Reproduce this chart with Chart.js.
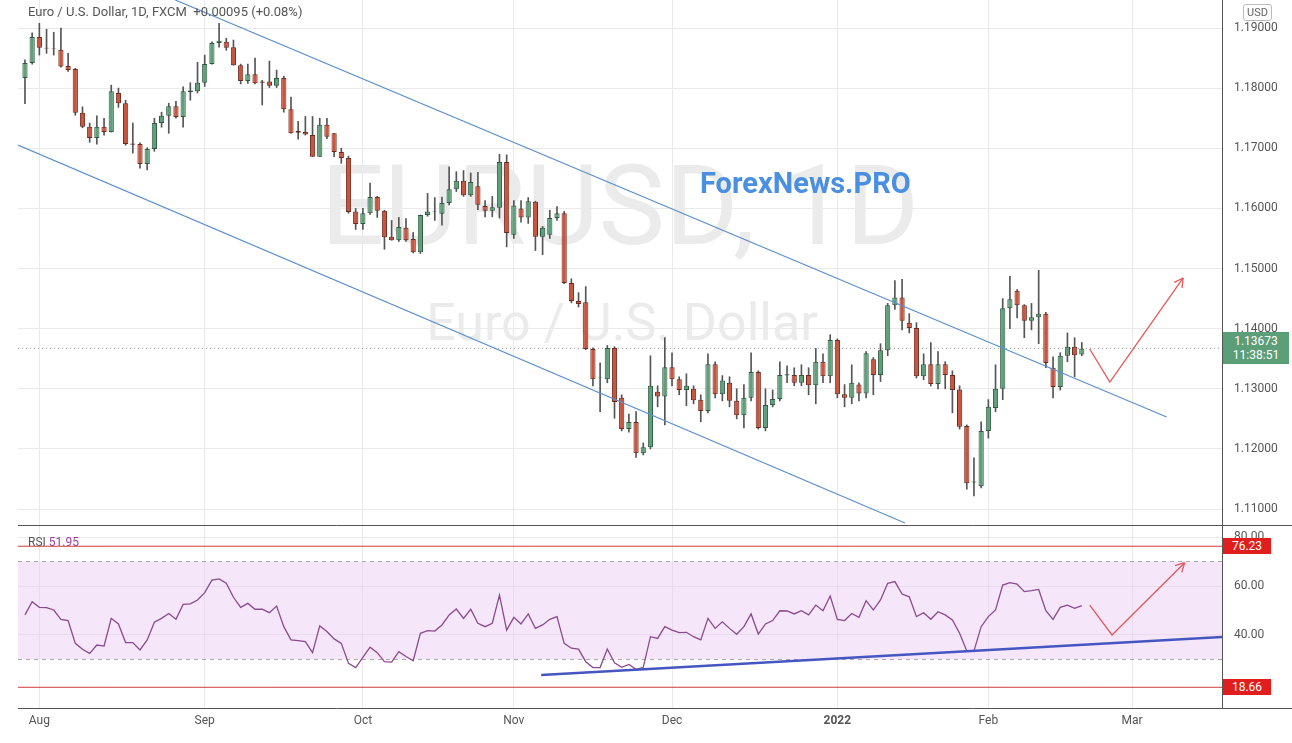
<!DOCTYPE html>
<html><head><meta charset="utf-8">
<script src="https://cdn.jsdelivr.net/npm/chart.js@4.4.1/dist/chart.umd.min.js"></script>
<style>
html,body{margin:0;padding:0;background:#fff;width:1292px;height:743px;overflow:hidden;font-family:Roboto,"Noto Sans",sans-serif}
#w1{position:absolute;left:0;top:0;width:1292px;height:525px}
#w2{position:absolute;left:0;top:525px;width:1292px;height:218px}
canvas{position:relative;z-index:2;display:block}
.t{position:absolute;z-index:3;white-space:nowrap}
.wm{position:absolute;z-index:1;white-space:nowrap;color:#ebebeb;transform:translate(-50%,-50%)}
.box{position:absolute;z-index:4;color:#fff;font-size:12px;text-align:center;line-height:14px}
</style></head><body>
<div class="wm" style="left:620px;top:205px;font-size:112px">EURUSD, 1D</div>
<div class="wm" style="left:622px;top:322px;font-size:52px">Euro / U.S. Dollar</div>
<div id="w1"><canvas id="c1"></canvas></div>
<div id="w2"><canvas id="c2"></canvas></div>
<div class="t" style="left:28px;top:4px;font-size:13px;color:#555">Euro / U.S. Dollar, 1D, FXCM &nbsp;+0.00095 (+0.08%)</div>
<div class="t" style="left:700px;top:166px;font-size:29px;font-weight:bold;color:#4a8fe0">ForexNews.PRO</div>
<div class="t" style="left:1243px;top:4px;font-size:11px;color:#666;border:1px solid #bbb;border-radius:3px;padding:1px 3px">USD</div>
<div class="t" style="left:28px;top:535px;font-size:12px;color:#555">RSI <span style="color:#9c3c9c">51.95</span></div>
<div class="box" id="pbox" style="left:1223px;width:66px;background:#5c9e78;padding:2px 0">1.13673<br>11:38:51</div>
<div class="box" id="hbox" style="left:1223px;width:48px;background:#e01e1e;padding:1px 0">76.23</div>
<div class="box" id="lbox" style="left:1223px;width:48px;background:#e01e1e;padding:1px 0">18.66</div>
<script>
const monthIdx=[2,25,47,68,90,113,134,154];
const monthLabels=['Aug','Sep','Oct','Nov','Dec','2022','Feb','Mar'];
const priceTicks=[1.11,1.12,1.13,1.14,1.15,1.16,1.17,1.18,1.19];
const rsiTicks=[40,60,80];
const rsiLevels=[76.23,18.66];
const rsiBand=[70,30];
const lastPrice=1.13673;
const opens=[1.1817,1.1842,1.1885,1.1867,1.1866,1.1864,1.1837,1.1832,1.1759,1.1736,1.1717,1.1736,1.1727,1.1792,1.1775,1.1708,1.1707,1.1674,1.1699,1.1742,1.1754,1.1770,1.1752,1.1793,1.1795,1.1809,1.1840,1.1875,1.1877,1.1868,1.1838,1.1812,1.1823,1.1811,1.1811,1.1804,1.1817,1.1765,1.1729,1.1727,1.1722,1.1686,1.1739,1.1725,1.1694,1.1684,1.1595,1.1574,1.1592,1.1619,1.1596,1.1553,1.1547,1.1568,1.1549,1.1527,1.1589,1.1594,1.1591,1.1609,1.1632,1.1646,1.1622,1.1637,1.1604,1.1596,1.1601,1.1677,1.1556,1.1600,1.1585,1.1611,1.1553,1.1556,1.1584,1.1592,1.1476,1.1446,1.1444,1.1366,1.1318,1.1316,1.1368,1.1285,1.1233,1.1245,1.1193,1.1203,1.1295,1.1287,1.1336,1.1316,1.1298,1.1300,1.1282,1.1263,1.1341,1.1291,1.1310,1.1280,1.1256,1.1285,1.1328,1.1235,1.1273,1.1283,1.1322,1.1323,1.1310,1.1323,1.1306,1.1345,1.1321,1.1381,1.1291,1.1285,1.1307,1.1292,1.1349,1.1323,1.1364,1.1439,1.1452,1.1410,1.1401,1.1321,1.1341,1.1308,1.1341,1.1323,1.1299,1.1238,1.1144,1.1138,1.1230,1.1268,1.1300,1.1434,1.1463,1.1439,1.1413,1.1419,1.1425,1.1335,1.1303,1.1355,1.1370,1.1357];
const highs=[1.1847,1.1892,1.1908,1.1898,1.1893,1.1900,1.1858,1.1833,1.1769,1.1742,1.1754,1.1750,1.1805,1.1800,1.1780,1.1742,1.1709,1.1701,1.1750,1.1760,1.1775,1.1778,1.1802,1.1809,1.1843,1.1855,1.1877,1.1908,1.1883,1.1880,1.1840,1.1840,1.1850,1.1813,1.1845,1.1830,1.1820,1.1785,1.1745,1.1753,1.1753,1.1750,1.1750,1.1725,1.1700,1.1687,1.1600,1.1600,1.1642,1.1620,1.1597,1.1580,1.1585,1.1583,1.1560,1.1589,1.1625,1.1618,1.1619,1.1669,1.1661,1.1663,1.1659,1.1660,1.1613,1.1620,1.1690,1.1689,1.1613,1.1613,1.1618,1.1612,1.1570,1.1597,1.1603,1.1595,1.1483,1.1460,1.1470,1.1368,1.1343,1.1372,1.1370,1.1290,1.1258,1.1262,1.1210,1.1355,1.1305,1.1385,1.1360,1.1320,1.1325,1.1305,1.1290,1.1358,1.1345,1.1322,1.1320,1.1300,1.1307,1.1360,1.1330,1.1300,1.1298,1.1345,1.1338,1.1335,1.1340,1.1335,1.1367,1.1358,1.1390,1.1383,1.1307,1.1340,1.1310,1.1362,1.1352,1.1375,1.1442,1.1480,1.1482,1.1425,1.1410,1.1358,1.1377,1.1362,1.1345,1.1330,1.1305,1.1240,1.1185,1.1245,1.1282,1.1340,1.1450,1.1487,1.1465,1.1440,1.1442,1.1497,1.1427,1.1353,1.1360,1.1393,1.1385,1.1377];
const lows=[1.1774,1.1840,1.1855,1.1858,1.1855,1.1835,1.1828,1.1755,1.1734,1.1710,1.1707,1.1722,1.1727,1.1768,1.1705,1.1692,1.1667,1.1664,1.1695,1.1735,1.1725,1.1750,1.1735,1.1780,1.1792,1.1803,1.1840,1.1868,1.1863,1.1838,1.1807,1.1808,1.1807,1.1772,1.1801,1.1801,1.1760,1.1725,1.1715,1.1722,1.1686,1.1686,1.1716,1.1686,1.1675,1.1592,1.1565,1.1565,1.1590,1.1585,1.1532,1.1547,1.1545,1.1545,1.1526,1.1525,1.1587,1.1580,1.1572,1.1606,1.1628,1.1620,1.1620,1.1598,1.1586,1.1586,1.1584,1.1536,1.1550,1.1577,1.1575,1.1530,1.1523,1.1550,1.1580,1.1475,1.1443,1.1436,1.1365,1.1305,1.1262,1.1310,1.1251,1.1230,1.1228,1.1186,1.1190,1.1200,1.1270,1.1240,1.1305,1.1290,1.1272,1.1275,1.1245,1.1260,1.1285,1.1280,1.1270,1.1250,1.1235,1.1280,1.1233,1.1230,1.1270,1.1280,1.1310,1.1305,1.1305,1.1290,1.1275,1.1310,1.1310,1.1285,1.1270,1.1275,1.1280,1.1285,1.1290,1.1312,1.1355,1.1432,1.1398,1.1393,1.1318,1.1315,1.1305,1.1300,1.1300,1.1260,1.1233,1.1133,1.1122,1.1135,1.1218,1.1262,1.1282,1.1400,1.1418,1.1385,1.1398,1.1375,1.1335,1.1285,1.1298,1.1345,1.1320,1.1355];
const closes=[1.1842,1.1885,1.1867,1.1866,1.1865,1.1836,1.1830,1.1759,1.1736,1.1717,1.1736,1.1727,1.1795,1.1775,1.1707,1.1706,1.1674,1.1699,1.1742,1.1754,1.1770,1.1752,1.1795,1.1796,1.1809,1.1840,1.1875,1.1879,1.1867,1.1838,1.1812,1.1823,1.1808,1.1809,1.1804,1.1817,1.1765,1.1725,1.1726,1.1723,1.1686,1.1739,1.1719,1.1694,1.1684,1.1594,1.1574,1.1592,1.1619,1.1596,1.1552,1.1547,1.1569,1.1547,1.1527,1.1589,1.1595,1.1595,1.1609,1.1632,1.1646,1.1622,1.1644,1.1606,1.1596,1.1602,1.1677,1.1559,1.1605,1.1585,1.1612,1.1553,1.1568,1.1584,1.1592,1.1476,1.1446,1.1441,1.1366,1.1316,1.1319,1.1368,1.1278,1.1233,1.1245,1.1193,1.1203,1.1305,1.1287,1.1336,1.1316,1.1298,1.1305,1.1281,1.1263,1.1341,1.1291,1.1314,1.1280,1.1256,1.1285,1.1328,1.1235,1.1273,1.1283,1.1323,1.1324,1.1310,1.1323,1.1306,1.1345,1.1321,1.1381,1.1291,1.1285,1.1310,1.1292,1.1359,1.1323,1.1364,1.1439,1.1452,1.1413,1.1401,1.1321,1.1341,1.1308,1.1341,1.1323,1.1298,1.1237,1.1143,1.1146,1.1230,1.1270,1.1300,1.1434,1.1449,1.1439,1.1413,1.1419,1.1425,1.1343,1.1303,1.1355,1.1370,1.1356,1.1367];
const rsi=[48.2,53.6,51.3,51.2,50.2,46.4,45.9,36.6,34.2,32.5,35.9,35.5,46.8,44.5,36.9,36.9,33.9,38.0,45.2,46.8,48.8,46.4,52.5,52.7,54.3,57.3,62.4,62.9,61.1,55.4,51.3,52.9,50.5,50.5,49.1,51.8,43.4,38.0,37.7,37.3,32.8,43.7,41.4,38.4,36.6,28.4,26.7,30.9,35.0,32.8,29.1,28.9,33.2,31.2,29.5,40.7,41.8,41.6,44.1,48.2,50.6,46.8,50.5,44.8,43.4,44.8,56.3,42.0,47.2,44.5,48.6,42.7,44.1,46.4,47.5,36.6,34.6,34.2,29.1,26.7,26.7,34.3,28.7,26.8,28.0,26.0,26.8,39.3,38.6,43.4,42.0,41.0,41.1,39.3,38.0,46.8,42.7,45.4,42.7,40.3,43.4,48.6,40.4,44.5,45.9,49.9,49.8,48.6,49.9,48.2,52.2,49.9,55.9,46.4,45.9,48.8,47.2,54.0,50.2,54.3,61.1,61.8,56.7,55.6,47.5,49.1,46.4,49.5,48.2,46.1,40.7,33.5,33.5,43.4,47.5,50.2,60.4,61.4,60.8,57.7,58.1,58.6,49.9,46.4,51.3,52.2,50.9,52.0];
const upperChannel=[[20.9,1.19466],[158.8,1.12531]];
const lowerChannel=[[-0.97,1.17054],[122.4,1.10768]];
const priceArrow=[[148.1,1.13662],[150.9,1.13113],[161.1,1.14843]];
const rsiTrend=[[71.8,23.7],[166.5,39.2]];
const rsiArrow=[[148.1,52.2],[151.2,40.0],[161.3,69.5]];
const xMin=-0.97, xMax=166.5;

const GREEN='#5f9f7a',RED='#c9553f';
const up=closes.map((c,i)=>c>=opens[i]);
const pts=a=>a.map(p=>({x:p[0],y:p[1]}));
const lineDs=(a,color,w)=>({type:'line',data:pts(a),borderColor:color,borderWidth:w,pointRadius:0,order:-1,tension:0});

function arrowPlugin(id,getDs){return {id,afterDatasetsDraw(ch){
  const m=ch.getDatasetMeta(getDs);const p=m.data;const a=p[p.length-2],b=p[p.length-1];
  const ang=Math.atan2(b.y-a.y,b.x-a.x);const ctx=ch.ctx;ctx.save();ctx.strokeStyle=ch.data.datasets[getDs].borderColor;ctx.lineWidth=1.3;
  ctx.beginPath();[0.5,-0.5].forEach(d=>{ctx.moveTo(b.x,b.y);ctx.lineTo(b.x-10*Math.cos(ang+d),b.y-10*Math.sin(ang+d));});ctx.stroke();ctx.restore();}};}

const zeroPad=s=>{s.paddingTop=0;s.paddingBottom=0;s.paddingLeft=0;s.paddingRight=0;};
const xCommon={type:'linear',min:xMin,max:xMax,offset:false,afterBuildTicks:s=>{s.ticks=monthIdx.map(v=>({value:v}));},
  grid:{color:'#eaeaea',drawTicks:false,offset:false}};

const ch1=new Chart(document.getElementById('c1'),{
 type:'bar',
 data:{datasets:[
  {data:opens.map((o,i)=>({x:i,y:[o,closes[i]]})),backgroundColor:up.map(u=>u?GREEN:RED),borderColor:up.map(u=>u?'#2f5a41':'#6e2a1f'),borderWidth:1,borderSkipped:false,grouped:false,barPercentage:0.85,categoryPercentage:0.85},
  {data:lows.map((l,i)=>({x:i,y:[l,highs[i]]})),backgroundColor:'#555',barThickness:1,grouped:false},
  lineDs(upperChannel,'#5b8fd0',1.2),
  lineDs(lowerChannel,'#5b8fd0',1.2),
  lineDs(priceArrow,'#e05a5a',1.3),
  {type:'line',data:[{x:xMin,y:lastPrice},{x:xMax,y:lastPrice}],borderColor:'#999',borderWidth:1,borderDash:[1,3],pointRadius:0,order:1}
 ]},
 options:{animation:false,responsive:true,maintainAspectRatio:false,events:[],
  layout:{autoPadding:false,padding:{left:18,top:0,bottom:0,right:0}},
  plugins:{legend:{display:false},tooltip:{enabled:false}},
  scales:{
   x:{...xCommon,ticks:{display:false},border:{display:false},afterFit:s=>{s.height=0;zeroPad(s);}},
   y:{position:'right',min:1.10735,max:1.19466,afterBuildTicks:s=>{s.ticks=priceTicks.map(v=>({value:v}));},
      ticks:{callback:v=>v.toFixed(5),color:'#555',font:{size:12,family:'Roboto'},padding:12},
      grid:{color:'#eaeaea',drawTicks:false},border:{color:'#555'},afterFit:s=>{s.width=70;zeroPad(s);}}
  }},
 plugins:[arrowPlugin('a1',4)]
});

const bandPlugin={id:'band',beforeDatasetsDraw(ch){
  const {ctx,chartArea:a,scales:{y}}=ch;ctx.save();
  const t=y.getPixelForValue(rsiBand[0]),b=y.getPixelForValue(rsiBand[1]);
  ctx.fillStyle='rgba(232,200,245,0.45)';ctx.fillRect(a.left,t,a.right-a.left,b-t);
  ctx.strokeStyle='#aaa';ctx.setLineDash([4,4]);ctx.lineWidth=1;
  [t,b].forEach(v=>{ctx.beginPath();ctx.moveTo(a.left,v);ctx.lineTo(a.right,v);ctx.stroke();});
  ctx.setLineDash([]);ctx.strokeStyle='#d23a3a';
  rsiLevels.forEach(l=>{const v=y.getPixelForValue(l);ctx.beginPath();ctx.moveTo(a.left,v);ctx.lineTo(a.right,v);ctx.stroke();});
  ctx.strokeStyle='#555';ctx.beginPath();ctx.moveTo(a.left,a.top+0.5);ctx.lineTo(ch.width,a.top+0.5);ctx.stroke();
  ctx.beginPath();ctx.moveTo(a.left,a.bottom+0.5);ctx.lineTo(ch.width,a.bottom+0.5);ctx.stroke();
  ctx.restore();}};

const ch2=new Chart(document.getElementById('c2'),{
 type:'line',
 data:{datasets:[
  {data:rsi.map((v,i)=>({x:i,y:v})),borderColor:'#8a4a8e',borderWidth:1.3,pointRadius:0,tension:0},
  lineDs(rsiTrend,'#4656c0',2.5),
  lineDs(rsiArrow,'#e05a5a',1.3)
 ]},
 options:{animation:false,responsive:true,maintainAspectRatio:false,events:[],
  layout:{autoPadding:false,padding:{left:18,top:0,bottom:0,right:0}},
  plugins:{legend:{display:false},tooltip:{enabled:false}},
  scales:{
   x:{...xCommon,ticks:{callback:(v,i)=>monthLabels[i],color:'#555',padding:6,maxRotation:0,autoSkip:false,
      font:c=>({size:12,family:'Roboto',weight:monthLabels[c.index]==='2022'?'bold':'normal'})},
      border:{display:false},afterFit:s=>{s.height=35;zeroPad(s);}},
   y:{position:'right',min:10.2,max:84.9,afterBuildTicks:s=>{s.ticks=rsiTicks.map(v=>({value:v}));},
      ticks:{callback:v=>v.toFixed(2),color:'#555',font:{size:12,family:'Roboto'},padding:12},
      grid:{color:'#eaeaea',drawTicks:false},border:{color:'#555'},afterFit:s=>{s.width=70;zeroPad(s);}}
  }},
 plugins:[bandPlugin,arrowPlugin('a2',2)]
});

const py=ch1.scales.y.getPixelForValue(lastPrice);
document.getElementById('pbox').style.top=(py-16)+'px';
document.getElementById('hbox').style.top=(525+ch2.scales.y.getPixelForValue(rsiLevels[0])-8)+'px';
document.getElementById('lbox').style.top=(525+ch2.scales.y.getPixelForValue(rsiLevels[1])-8)+'px';
</script></body></html>
